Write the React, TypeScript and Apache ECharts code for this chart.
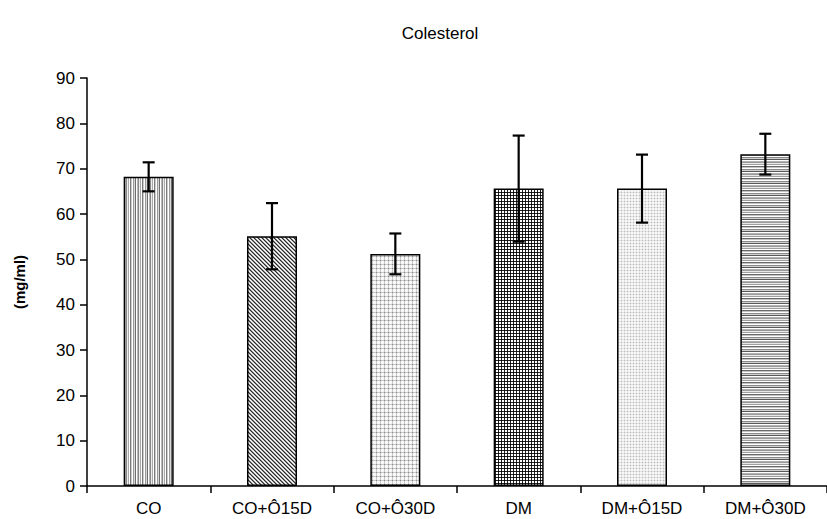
import React, { useEffect, useRef } from "react";
import * as echarts from "echarts";

const categories = ["CO", "CO+Ô15D", "CO+Ô30D", "DM", "DM+Ô15D", "DM+Ô30D"];
const means = [68.2, 55.1, 51.2, 65.6, 65.6, 73.2];
const errors = [3.2, 7.3, 4.5, 11.7, 7.5, 4.5];
const yTicks = [0, 10, 20, 30, 40, 50, 60, 70, 80, 90];

function makePattern(kind: number): HTMLCanvasElement {
  const c = document.createElement("canvas");
  const size = 12;
  c.width = size;
  c.height = size;
  const ctx = c.getContext("2d")!;
  ctx.fillStyle = "#ffffff";
  ctx.fillRect(0, 0, size, size);
  const px = (x: number, y: number, col: string) => {
    ctx.fillStyle = col;
    ctx.fillRect(x, y, 1, 1);
  };
  if (kind === 0) {
    const cols = ["#ffffff", "#9a9a9a", "#d8d8d8", "#6e6e6e", "#ffffff", "#b8b8b8", "#888888", "#eeeeee", "#a8a8a8", "#ffffff", "#7a7a7a", "#cccccc"];
    for (let x = 0; x < size; x++) for (let y = 0; y < size; y++) px(x, y, cols[x]);
  } else if (kind === 1) {
    for (let x = 0; x < size; x++)
      for (let y = 0; y < size; y++) {
        const m = (((x - y) % 4) + 4) % 4;
        px(x, y, m === 0 ? "#2a2a2a" : m === 1 ? "#8a8a8a" : m === 2 ? "#ffffff" : "#c8c8c8");
      }
  } else if (kind === 2) {
    for (let x = 0; x < size; x++)
      for (let y = 0; y < size; y++) {
        let col = "#ffffff";
        if (x % 4 === 0 && y % 4 === 0) col = "#8a8a8a";
        else if (x % 4 === 0 || y % 4 === 0) col = "#c8c8c8";
        else if ((x + y) % 2 === 0) col = "#f0f0f0";
        px(x, y, col);
      }
  } else if (kind === 3) {
    for (let x = 0; x < size; x++)
      for (let y = 0; y < size; y++) {
        let col = "#ffffff";
        if (x % 3 === 0 && y % 3 === 0) col = "#000000";
        else if (x % 3 === 0 || y % 3 === 0) col = "#222222";
        px(x, y, col);
      }
  } else if (kind === 4) {
    for (let x = 0; x < size; x++)
      for (let y = 0; y < size; y++) {
        let col = "#f7f7f7";
        if (x % 3 === 0 && y % 3 === 0) col = "#bdbdbd";
        else if (x % 3 === 0 || y % 3 === 0) col = "#e4e4e4";
        px(x, y, col);
      }
  } else {
    const rows = ["#ffffff", "#8a8a8a", "#d0d0d0", "#5a5a5a", "#ffffff", "#b0b0b0", "#999999", "#e8e8e8", "#a0a0a0", "#ffffff", "#6a6a6a", "#c4c4c4"];
    for (let x = 0; x < size; x++) for (let y = 0; y < size; y++) px(x, y, rows[y]);
  }
  return c;
}

export default function App() {
  const ref = useRef<HTMLDivElement>(null);
  useEffect(() => {
    document.body.style.margin = "0";
    if (!ref.current) return;
    const chart = echarts.init(ref.current, null, { renderer: "svg" });
    const fontFamily = "Liberation Sans, Arial, sans-serif";
    const barData = means.map((v, i) => ({
      value: v,
      itemStyle: {
        color: { image: makePattern(i), repeat: "repeat" } as any,
        borderColor: "#000000",
        borderWidth: 1.5,
      },
    }));
    const errData = means.map((v, i) => [i, v - errors[i], v + errors[i]]);
    chart.setOption({
      animation: false,
      backgroundColor: "#ffffff",
      title: {
        text: "Colesterol",
        left: 435,
        top: 20,
        textAlign: "center",
        textStyle: { fontFamily, fontSize: 17, fontWeight: "normal", color: "#000" },
      },
      grid: { left: 87, right: 0, top: 78, bottom: 33, containLabel: false },
      xAxis: {
        type: "category",
        data: categories,
        boundaryGap: true,
        axisLine: { lineStyle: { color: "#000", width: 1.5 } },
        axisTick: { show: true, inside: false, length: 7, lineStyle: { color: "#000", width: 1.5 } },
        axisLabel: { fontFamily, fontSize: 17, color: "#000", margin: 14, interval: 0 },
      },
      yAxis: {
        type: "value",
        min: yTicks[0],
        max: yTicks[yTicks.length - 1],
        interval: 10,
        name: "(mg/ml)",
        nameLocation: "middle",
        nameGap: 60,
        nameTextStyle: { fontFamily, fontSize: 15, fontWeight: "bold", color: "#000" },
        splitLine: { show: false },
        axisLine: { show: true, lineStyle: { color: "#000", width: 1.5 } },
        axisTick: { show: true, inside: false, length: 7, lineStyle: { color: "#000", width: 1.5 } },
        axisLabel: { fontFamily, fontSize: 17, color: "#000", margin: 12 },
      },
      series: [
        {
          type: "bar",
          data: barData,
          barWidth: 50,
          z: 2,
        },
        {
          type: "custom",
          data: errData,
          z: 5,
          renderItem: (params: any, api: any) => {
            const x = api.value(0);
            const lo = api.coord([x, api.value(1)]);
            const hi = api.coord([x, api.value(2)]);
            const cap = 6;
            const style = { stroke: "#000", lineWidth: 2.2 };
            return {
              type: "group",
              children: [
                { type: "line", shape: { x1: hi[0], y1: hi[1], x2: lo[0], y2: lo[1] }, style },
                { type: "line", shape: { x1: hi[0] - cap, y1: hi[1], x2: hi[0] + cap, y2: hi[1] }, style },
                { type: "line", shape: { x1: lo[0] - cap, y1: lo[1], x2: lo[0] + cap, y2: lo[1] }, style },
              ],
            };
          },
        },
      ],
    });
    return () => chart.dispose();
  }, []);
  return <div ref={ref} style={{ width: 827, height: 519 }} />;
}
